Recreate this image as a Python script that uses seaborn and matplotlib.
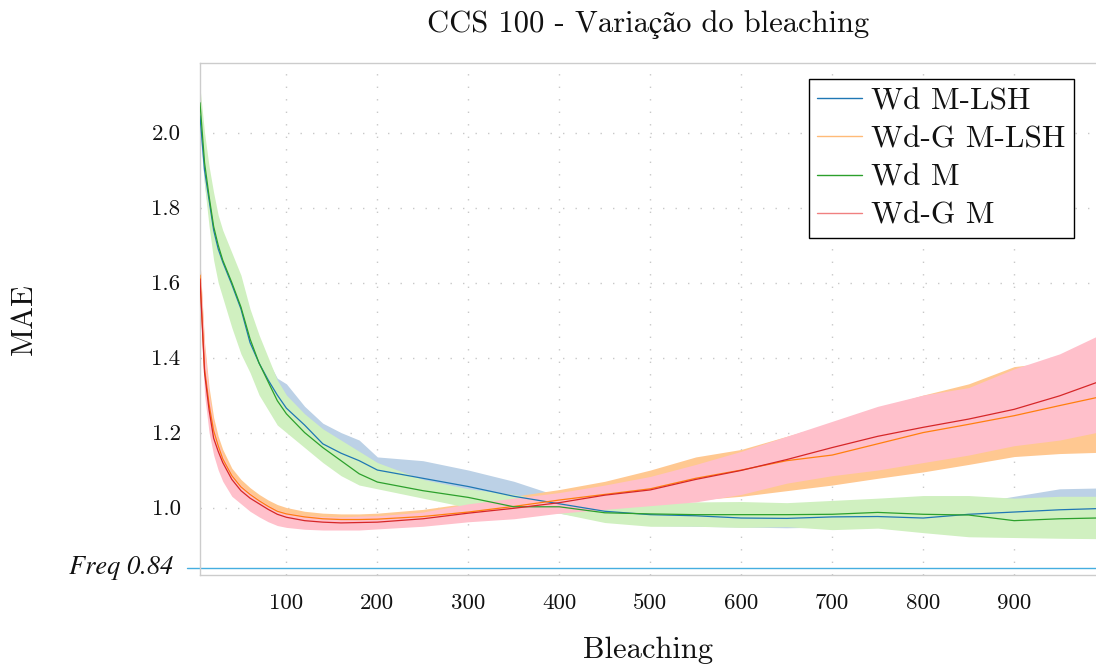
import matplotlib
matplotlib.use("Agg")
import matplotlib.pyplot as plt
import matplotlib.transforms as mtransforms
from matplotlib.lines import Line2D
import numpy as np
import pandas as pd
import seaborn as sns

# ---------------- data ----------------
bleaching = [5, 10, 15, 20, 25, 30, 40, 50, 60, 70, 80, 90, 100, 120, 140, 160, 180, 200,
             250, 300, 350, 400, 450, 500, 550, 600, 650, 700, 750, 800, 850, 900, 950, 990]

wd_mlsh_mean = [2.045, 1.90, 1.82, 1.74, 1.69, 1.655, 1.595, 1.53, 1.44, 1.385, 1.34, 1.30, 1.265,
                1.22, 1.17, 1.145, 1.125, 1.10, 1.078, 1.056, 1.03, 1.01, 0.99, 0.981, 0.978,
                0.972, 0.971, 0.975, 0.976, 0.972, 0.982, 0.988, 0.994, 0.997]
wd_mlsh_lo = [2.00, 1.86, 1.77, 1.69, 1.64, 1.60, 1.53, 1.45, 1.38, 1.33, 1.29, 1.255, 1.225,
              1.18, 1.13, 1.105, 1.085, 1.065, 1.045, 1.025, 1.005, 0.985, 0.965, 0.952, 0.95,
              0.948, 0.946, 0.948, 0.948, 0.945, 0.95, 0.955, 0.96, 0.96]
wd_mlsh_hi = [2.08, 1.96, 1.87, 1.80, 1.74, 1.70, 1.64, 1.61, 1.50, 1.43, 1.39, 1.345, 1.33,
              1.27, 1.225, 1.20, 1.18, 1.135, 1.125, 1.10, 1.07, 1.03, 1.005, 0.995, 0.99,
              0.985, 0.985, 0.99, 0.99, 0.995, 1.01, 1.03, 1.05, 1.052]

wdg_mlsh_mean = [1.62, 1.37, 1.275, 1.205, 1.165, 1.13, 1.085, 1.055, 1.035, 1.018, 1.003, 0.99,
                 0.983, 0.975, 0.97, 0.968, 0.968, 0.969, 0.976, 0.988, 1.003, 1.02, 1.035, 1.05,
                 1.078, 1.10, 1.125, 1.14, 1.17, 1.20, 1.222, 1.245, 1.272, 1.293]
wdg_mlsh_lo = [1.58, 1.33, 1.23, 1.17, 1.135, 1.10, 1.06, 1.035, 1.015, 1.0, 0.985, 0.972, 0.965,
               0.957, 0.954, 0.953, 0.953, 0.955, 0.96, 0.968, 0.975, 0.99, 1.0, 1.01, 1.02,
               1.03, 1.045, 1.06, 1.078, 1.095, 1.115, 1.136, 1.144, 1.147]
wdg_mlsh_hi = [1.66, 1.44, 1.32, 1.24, 1.19, 1.155, 1.105, 1.075, 1.053, 1.035, 1.02, 1.008, 1.0,
               0.99, 0.985, 0.983, 0.983, 0.985, 0.995, 1.012, 1.03, 1.048, 1.07, 1.10, 1.135,
               1.155, 1.19, 1.225, 1.265, 1.30, 1.33, 1.376, 1.39, 1.44]

wd_m_mean = [2.08, 1.92, 1.83, 1.75, 1.70, 1.66, 1.60, 1.535, 1.45, 1.385, 1.335, 1.285, 1.25,
             1.20, 1.16, 1.125, 1.09, 1.068, 1.045, 1.027, 1.002, 1.002, 0.986, 0.983, 0.981,
             0.981, 0.981, 0.982, 0.987, 0.982, 0.98, 0.965, 0.97, 0.972]
wd_m_lo = [2.03, 1.86, 1.75, 1.66, 1.60, 1.56, 1.48, 1.41, 1.36, 1.30, 1.26, 1.22, 1.20,
           1.16, 1.12, 1.085, 1.06, 1.05, 1.025, 1.0, 0.99, 0.985, 0.96, 0.95, 0.95,
           0.947, 0.949, 0.941, 0.945, 0.933, 0.922, 0.92, 0.918, 0.917]
wd_m_hi = [2.12, 2.00, 1.91, 1.84, 1.78, 1.74, 1.68, 1.62, 1.53, 1.46, 1.40, 1.34, 1.30,
           1.25, 1.21, 1.18, 1.15, 1.12, 1.075, 1.05, 1.035, 1.015, 1.005, 1.01, 1.015,
           1.016, 1.013, 1.019, 1.025, 1.032, 1.032, 1.025, 1.03, 1.03]

wdg_m_mean = [1.61, 1.36, 1.26, 1.185, 1.15, 1.12, 1.075, 1.045, 1.025, 1.01, 0.995, 0.982, 0.974,
              0.965, 0.961, 0.959, 0.96, 0.961, 0.97, 0.985, 0.998, 1.013, 1.033, 1.047, 1.075,
              1.099, 1.128, 1.16, 1.19, 1.214, 1.236, 1.262, 1.298, 1.333]
wdg_m_lo = [1.56, 1.30, 1.20, 1.14, 1.10, 1.07, 1.03, 1.01, 0.99, 0.975, 0.962, 0.952, 0.947,
            0.942, 0.94, 0.94, 0.94, 0.943, 0.95, 0.962, 0.97, 0.985, 0.995, 1.005, 1.015,
            1.035, 1.065, 1.085, 1.10, 1.12, 1.14, 1.165, 1.18, 1.20]
wdg_m_hi = [1.66, 1.43, 1.30, 1.22, 1.175, 1.14, 1.09, 1.06, 1.04, 1.022, 1.007, 0.994, 0.987,
            0.979, 0.976, 0.975, 0.977, 0.978, 0.988, 1.01, 1.025, 1.04, 1.06, 1.083, 1.115,
            1.15, 1.19, 1.23, 1.27, 1.30, 1.32, 1.37, 1.41, 1.456]

series_names = ["Wd M-LSH", "Wd-G M-LSH", "Wd M", "Wd-G M"]
freq_value = 0.84
freq_label = "Freq 0.84"
x_ticks = [100, 200, 300, 400, 500, 600, 700, 800, 900]
y_ticks = [1.0, 1.2, 1.4, 1.6, 1.8, 2.0]
y_tick_labels = ["1.0", "1.2", "1.4", "1.6", "1.8", "2.0"]
title = "CCS 100 - Variação do bleaching"
x_label = "Bleaching"
y_label = "MAE"

# ---------------- styling ----------------
line_colors = ["#1f77b4", "#ff7f0e", "#2ca02c", "#d62728"]
fill_colors = ["#bcd1e6", "#ffc891", "#d0f0c0", "#ffc0cb"]
legend_colors = ["#1f77b4", "#ffbb78", "#2ca02c", "#f08080"]

sns.set_theme(style="white")
plt.rcParams["font.family"] = ["cmr10", "STIXGeneral", "DejaVu Serif"]
plt.rcParams["axes.formatter.use_mathtext"] = True

means = [wd_mlsh_mean, wdg_mlsh_mean, wd_m_mean, wdg_m_mean]
los = [wd_mlsh_lo, wdg_mlsh_lo, wd_m_lo, wdg_m_lo]
his = [wd_mlsh_hi, wdg_mlsh_hi, wd_m_hi, wdg_m_hi]

frames = []
for name, m in zip(series_names, means):
    frames.append(pd.DataFrame({"Bleaching": bleaching, "MAE": m, "series": name}))
df = pd.concat(frames, ignore_index=True)

fig = plt.figure(figsize=(10.96, 6.66), dpi=100)
ax = fig.add_axes([200 / 1096, 1 - 575 / 666, 896 / 1096, 512 / 666])

for lo, hi, fc in zip(los, his, fill_colors):
    ax.fill_between(bleaching, lo, hi, color=fc, linewidth=0, zorder=1)

sns.lineplot(data=df, x="Bleaching", y="MAE", hue="series", hue_order=series_names,
             palette=dict(zip(series_names, line_colors)), linewidth=0.9,
             errorbar=None, legend=False, ax=ax, zorder=3)

ax.axhline(freq_value, xmin=-0.014, xmax=1.0, color="#45aee0", linewidth=1.0,
           clip_on=False, zorder=2)
trans = mtransforms.blended_transform_factory(ax.transAxes, ax.transData)
ax.text(-0.030, freq_value, freq_label, transform=trans, family="STIXGeneral",
        style="italic", ha="right", va="center", fontsize=19, color="#111111")

ax.set_xlim(5, 990)
ax.set_ylim(0.82, 2.186)
ax.set_xticks(x_ticks)
ax.set_xticklabels([str(t) for t in x_ticks])
ax.set_yticks(y_ticks)
ax.set_yticklabels(y_tick_labels)
ax.tick_params(axis="both", which="major", direction="out", length=7, width=1,
               color="#999999", labelsize=16.5, labelcolor="#111111")
ax.tick_params(axis="x", pad=6)
ax.tick_params(axis="y", pad=7)

ax.grid(True, linestyle=(0, (1, 8)), linewidth=1.0, color="#c8c8c8")
ax.set_axisbelow(True)

for side in ["left", "bottom", "top"]:
    ax.spines[side].set_color("#cccccc")
    ax.spines[side].set_linewidth(1.0)
ax.spines["right"].set_visible(False)

ax.set_xlabel(x_label, fontsize=22, color="#111111")
ax.xaxis.set_label_coords(0.5, -0.12)
ax.set_ylabel(y_label, fontsize=22, color="#111111")
ax.yaxis.set_label_coords(-0.181, 0.5)
ax.set_title(title, fontsize=22, y=1.06, pad=0, color="#111111")

handles = [Line2D([0], [0], color=c, linewidth=1.0) for c in legend_colors]
leg = ax.legend(handles, series_names, loc="upper right", bbox_to_anchor=(0.975, 0.968),
                borderaxespad=0, fontsize=22.5, frameon=True, fancybox=False,
                handlelength=1.45, handletextpad=0.3, labelspacing=0.33, borderpad=0.25)
leg.get_frame().set_edgecolor("black")
leg.get_frame().set_linewidth(1.0)
leg.get_frame().set_alpha(1.0)
for t in leg.get_texts():
    t.set_color("#111111")

fig.savefig("out.png", dpi=100)
